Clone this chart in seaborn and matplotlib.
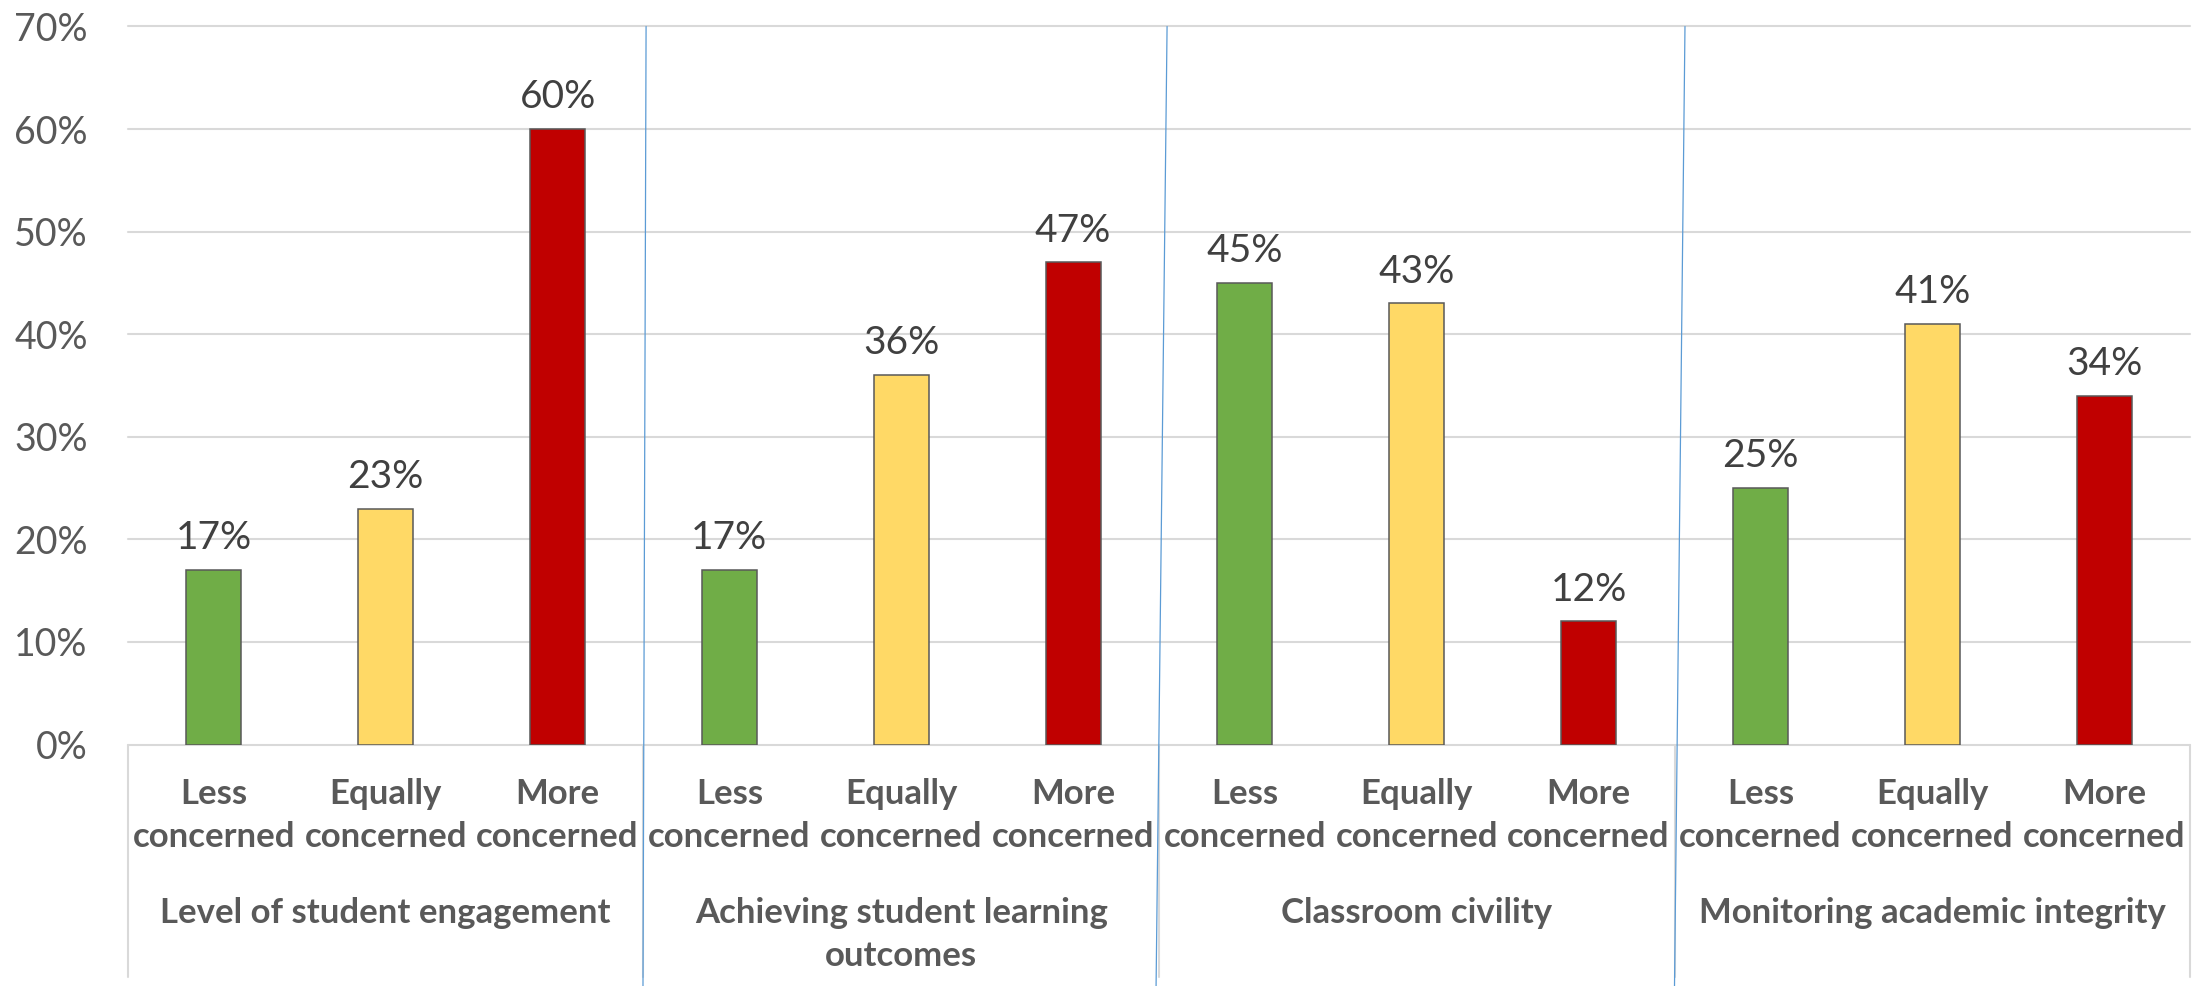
import matplotlib
matplotlib.use("Agg")
import matplotlib.pyplot as plt
import seaborn as sns
import pandas as pd

# Survey results: share of respondents per concern level, by topic
topics = [
    "Level of student engagement",
    "Achieving student learning\noutcomes",
    "Classroom civility",
    "Monitoring academic integrity",
]
responses = ["Less\nconcerned", "Equally\nconcerned", "More\nconcerned"]
less_pct = [17, 17, 45, 25]
equal_pct = [23, 36, 43, 41]
more_pct = [60, 47, 12, 34]
colors = ["#70AD47", "#FFD966", "#C00000"]

rows = []
for i, topic in enumerate(topics):
    for resp, vals in zip(responses, [less_pct, equal_pct, more_pct]):
        rows.append({"key": f"{i}|{resp}", "topic": topic,
                     "response": resp, "value": vals[i]})
df = pd.DataFrame(rows)
order = list(df["key"])

sns.set_theme(style="white")
plt.rcParams["font.family"] = ["Lato", "DejaVu Sans"]

W, H = 2210, 986
fig = plt.figure(figsize=(W / 100, H / 100), dpi=100)
left, right, top, base = 128, 2190, 26.5, 744.5
ax = fig.add_axes([left / W, (H - base) / H, (right - left) / W, (base - top) / H])

sns.barplot(data=df, x="key", y="value", hue="response", order=order,
            hue_order=responses, palette=colors, saturation=1, dodge=False,
            width=0.32, edgecolor="#595959", linewidth=1.1, legend=False, ax=ax)

for cont in ax.containers:
    ax.bar_label(cont, fmt="{:.0f}%", padding=10, fontsize=28,
                 color="#404040")

ax.set_xlim(-0.5, len(order) - 0.5)
ax.set_ylim(0, 70)
ax.set_yticks(range(0, 71, 10))
ax.set_yticklabels([f"{v}%" for v in range(0, 71, 10)], fontsize=27,
                   color="#595959")
ax.set_xticks(range(len(order)))
ax.set_xticklabels(list(df["response"]), fontsize=25, fontweight="bold",
                   color="#595959", linespacing=1.42)
ax.tick_params(axis="y", length=0, pad=29)
ax.tick_params(axis="x", length=0, pad=24)
ax.set_xlabel("")
ax.set_ylabel("")
for s in ax.spines.values():
    s.set_visible(False)

ax.yaxis.grid(True, color="#D9D9D9", linewidth=1.5)
ax.set_axisbelow(True)
for gl in ax.get_ygridlines():
    gl.set_clip_on(False)

# Category box below the baseline
xt = ax.get_xaxis_transform()
box_bottom = (base - 977) / (base - top)
for b in [-0.5, 2.5, 5.5, 8.5, 11.5]:
    ax.plot([b, b], [0, box_bottom], transform=xt, color="#D9D9D9",
            linewidth=1.5, clip_on=False)

for i, topic in enumerate(topics):
    ax.text(3 * i + 1, (base - 897) / (base - top), topic, transform=xt,
            ha="center", va="top", fontsize=25, fontweight="bold",
            color="#595959", linespacing=1.42)

# Thin blue divider strokes between topic groups
fig_bottom = (base - H) / (base - top)
for b, dt, db in [(2.5, 0.015, -0.003), (5.5, 0.047, -0.017), (8.5, 0.061, 0.0)]:
    ax.plot([b + dt, b + db], [1, fig_bottom], transform=xt, color="#5B9BD5",
            linewidth=0.9, clip_on=False)

fig.savefig("out.png", dpi=100, facecolor="white")
